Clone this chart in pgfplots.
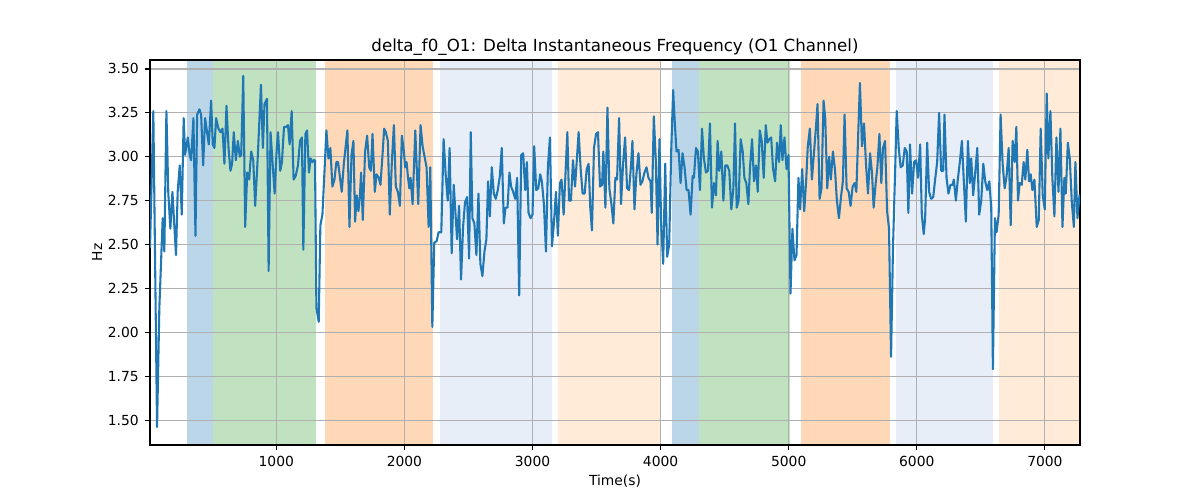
\documentclass[border=0pt]{standalone}
\usepackage{pgfplots}
\pgfplotsset{compat=1.18}
\usepackage{fontspec}
\setmainfont{DejaVu Sans}
\definecolor{tabblue}{HTML}{1F77B4}
\definecolor{spanblue}{HTML}{BBD6E8}
\definecolor{spangreen}{HTML}{C0E2C0}
\definecolor{spanorange}{HTML}{FFD9B7}
\definecolor{spanlblue}{HTML}{E7EEF8}
\definecolor{spanlorange}{HTML}{FFEBD7}
\definecolor{gridgray}{HTML}{B0B0B0}
\begin{document}
\begin{tikzpicture}
\begin{axis}[
  set layers=standard,
  clip mode=individual,
  scale only axis,
  width=697.5pt, height=288.75pt,
  xmin=14, xmax=7274, ymin=1.358, ymax=3.551,
  xtick={1000,2000,3000,4000,5000,6000,7000},
  ytick={1.5,1.75,2,2.25,2.5,2.75,3,3.25,3.5},
  /pgf/number format/assume math mode=true,
  /pgf/number format/1000 sep={},
  yticklabel style={/pgf/number format/fixed,/pgf/number format/fixed zerofill,/pgf/number format/precision=2},
  tick label style={font=\fontsize{10.4}{12}\selectfont},
  xticklabel style={anchor=base, inner sep=0pt, yshift=-12.1pt},
  yticklabel style={anchor=east, inner sep=0pt, xshift=-4.6pt},
  tick align=outside,
  major tick length=3.65pt,
  tick style={black, line width=0.83pt},
  xtick pos=bottom, ytick pos=left,
  grid=major,
  major grid style={gridgray, line width=0.83pt},
  axis line style={black, line width=0.83pt},
  title={delta\_f0\_O1: Delta Instantaneous Frequency (O1 Channel)},
  title style={at={(axis description cs:0.5,1)}, anchor=base, inner sep=0pt, yshift=0pt, font=\fontsize{12.5}{15}\selectfont},
  xlabel={Time(s)},
  xlabel style={at={(axis description cs:0.5,0)}, anchor=base, inner sep=0pt, yshift=-30pt, font=\fontsize{10.4}{12}\selectfont},
  ylabel={Hz},
  ylabel style={at={(axis description cs:-0.057,0.5)}, anchor=center, inner sep=0pt, font=\fontsize{10.4}{12}\selectfont},
]
\addplot[on layer=axis background, fill=spanblue, draw=none] coordinates {(300,1) (509,1) (509,4) (300,4)} -- cycle;
\addplot[on layer=axis background, fill=spangreen, draw=none] coordinates {(509,1) (1313,1) (1313,4) (509,4)} -- cycle;
\addplot[on layer=axis background, fill=spanorange, draw=none] coordinates {(1378,1) (2221,1) (2221,4) (1378,4)} -- cycle;
\addplot[on layer=axis background, fill=spanlblue, draw=none] coordinates {(2278,1) (3152,1) (3152,4) (2278,4)} -- cycle;
\addplot[on layer=axis background, fill=spanlorange, draw=none] coordinates {(3201,1) (4005,1) (4005,4) (3201,4)} -- cycle;
\addplot[on layer=axis background, fill=spanblue, draw=none] coordinates {(4085,1) (4299,1) (4299,4) (4085,4)} -- cycle;
\addplot[on layer=axis background, fill=spangreen, draw=none] coordinates {(4299,1) (5011,1) (5011,4) (4299,4)} -- cycle;
\addplot[on layer=axis background, fill=spanorange, draw=none] coordinates {(5095,1) (5793,1) (5793,4) (5095,4)} -- cycle;
\addplot[on layer=axis background, fill=spanlblue, draw=none] coordinates {(5838,1) (6597,1) (6597,4) (5838,4)} -- cycle;
\addplot[on layer=axis background, fill=spanlorange, draw=none] coordinates {(6644,1) (7400,1) (7400,4) (6644,4)} -- cycle;
\addplot[tabblue, line width=1.56pt, line join=round] table {
x y
14 2.48
40 3.26
69 1.46
87 2.14
113 2.65
126 2.46
142 3.26
157 2.79
173 2.59
189 2.80
217 2.44
230 2.80
246 2.95
262 2.67
277 3.22
288 3.01
309 3.11
324 3.01
335 2.98
353 3.22
369 2.55
382 3.24
400 3.27
413 3.24
429 2.95
444 3.22
473 3.07
491 3.32
504 3.07
517 3.05
530 3.22
548 3.16
564 3.14
580 3.16
595 2.96
611 3.29
627 3.05
642 2.92
655 2.96
668 3.14
684 2.98
700 3.09
715 3.00
726 3.01
742 3.46
757 2.60
773 2.91
788 2.87
804 3.03
820 2.98
835 2.72
856 3.01
880 3.41
895 3.05
908 3.30
927 3.33
940 2.35
955 3.14
987 2.79
1002 3.03
1013 3.14
1031 2.92
1044 2.97
1060 3.17
1078 3.17
1091 3.18
1104 3.07
1120 3.26
1135 2.87
1151 2.89
1169 2.95
1185 3.09
1200 3.11
1211 2.47
1227 3.13
1240 3.15
1255 2.91
1268 2.99
1281 2.97
1292 2.98
1302 2.98
1313 2.14
1331 2.06
1344 2.61
1360 2.67
1375 2.90
1391 3.15
1407 2.99
1422 3.05
1438 2.83
1454 2.87
1469 2.97
1482 2.97
1511 2.80
1527 2.96
1555 3.15
1571 2.60
1587 3.01
1602 3.09
1615 2.63
1628 2.78
1641 2.69
1652 2.77
1662 2.91
1675 2.64
1693 3.03
1709 3.12
1725 2.94
1738 2.92
1751 3.13
1769 2.80
1782 2.90
1800 2.88
1813 2.84
1829 3.01
1842 3.16
1855 3.14
1871 3.09
1886 2.67
1902 2.97
1918 3.18
1933 2.83
1949 2.80
1965 2.72
1980 3.12
1996 3.03
2006 2.94
2017 2.97
2027 2.89
2038 2.82
2048 2.88
2064 2.73
2085 3.15
2095 2.96
2108 2.73
2126 3.18
2142 3.06
2160 2.99
2173 2.94
2189 2.60
2202 2.94
2218 2.03
2233 2.51
2252 2.52
2267 2.57
2288 2.57
2306 3.10
2322 2.90
2338 2.75
2353 3.05
2369 2.45
2385 2.84
2411 2.53
2427 2.72
2442 2.30
2458 2.60
2473 2.74
2489 2.77
2505 2.42
2518 3.14
2531 2.65
2546 2.62
2562 2.44
2578 2.79
2593 2.39
2609 2.32
2625 2.46
2640 2.53
2653 2.86
2667 2.66
2682 2.94
2698 2.79
2713 2.76
2729 2.81
2745 2.89
2760 3.05
2776 2.62
2789 2.71
2805 2.71
2820 2.91
2833 2.83
2849 2.80
2865 2.76
2880 2.88
2896 2.21
2912 3.01
2927 3.02
2943 2.81
2956 2.97
2969 2.68
2985 2.65
3000 2.67
3013 3.06
3029 2.81
3045 2.82
3060 2.90
3073 2.86
3089 2.73
3105 2.46
3120 2.94
3136 3.11
3152 2.49
3167 2.62
3183 2.80
3198 2.55
3214 2.85
3227 2.87
3243 2.67
3256 2.88
3272 3.14
3285 2.75
3300 2.75
3316 2.98
3332 2.83
3345 2.97
3360 3.14
3376 2.93
3391 2.79
3407 2.79
3423 2.93
3438 2.96
3451 2.71
3464 2.58
3480 3.05
3496 3.13
3511 3.14
3527 2.83
3543 2.84
3553 3.03
3569 2.71
3585 3.28
3600 2.82
3616 2.73
3631 2.62
3647 2.88
3660 2.87
3676 3.22
3691 2.73
3707 2.96
3723 3.11
3738 2.82
3754 2.81
3770 2.96
3780 3.09
3796 2.70
3811 2.90
3827 3.02
3843 2.84
3858 2.86
3874 2.91
3890 2.94
3905 2.88
3921 2.86
3931 2.68
3947 3.23
3963 2.97
3976 2.50
3991 3.10
4004 2.62
4020 2.39
4036 2.96
4051 2.43
4067 2.50
4083 3.04
4098 3.38
4111 3.19
4124 3.03
4140 3.04
4156 2.85
4171 3.02
4187 2.94
4203 2.81
4218 2.81
4234 2.67
4250 2.89
4260 2.88
4276 3.05
4291 3.03
4307 2.81
4323 3.16
4338 2.99
4354 2.91
4370 2.92
4385 3.19
4401 2.71
4417 2.85
4432 2.78
4445 3.09
4458 2.92
4474 3.03
4490 2.75
4505 2.95
4521 2.95
4536 2.92
4552 2.70
4568 2.82
4581 3.19
4594 2.71
4609 2.75
4625 3.10
4641 3.03
4654 2.88
4669 2.85
4685 2.73
4698 2.94
4714 3.10
4729 2.86
4745 2.95
4758 2.80
4774 3.15
4789 3.09
4805 2.88
4821 3.18
4834 3.08
4849 3.10
4863 3.11
4878 2.93
4894 2.86
4909 3.08
4925 2.97
4938 3.18
4951 2.98
4967 3.11
4983 2.93
4998 3.01
5014 2.22
5029 2.59
5045 2.41
5061 2.44
5076 2.88
5089 2.70
5105 2.93
5121 2.69
5136 2.86
5149 3.06
5165 3.16
5181 2.87
5196 3.01
5212 3.16
5225 3.30
5241 2.76
5256 2.82
5272 3.32
5285 3.22
5301 2.82
5316 3.00
5329 2.87
5345 3.03
5361 2.93
5376 2.75
5392 2.65
5408 2.77
5423 2.86
5436 3.24
5452 2.82
5468 2.80
5483 2.72
5499 2.83
5515 2.85
5528 2.80
5543 3.14
5556 3.42
5572 3.06
5588 3.19
5603 2.96
5619 2.79
5635 3.02
5650 2.91
5663 2.71
5679 2.85
5692 2.94
5708 3.13
5723 2.85
5736 3.05
5752 3.09
5768 2.69
5783 2.59
5799 1.86
5814 2.48
5830 2.90
5843 3.26
5859 3.05
5874 2.94
5890 2.95
5906 3.05
5921 3.03
5934 2.68
5947 3.07
5963 2.79
5979 2.97
5994 2.98
6010 2.88
6026 3.07
6039 2.67
6054 2.56
6065 2.65
6081 3.08
6096 2.80
6112 2.76
6128 2.77
6143 2.87
6159 2.97
6174 3.25
6190 2.92
6206 2.92
6216 3.24
6232 2.88
6247 2.79
6263 2.84
6279 2.84
6289 2.87
6305 2.75
6320 2.87
6336 2.97
6352 3.09
6367 2.86
6383 2.63
6399 3.09
6414 2.85
6425 2.99
6440 2.78
6456 2.91
6472 3.05
6487 2.67
6503 2.75
6519 2.96
6534 2.86
6550 2.81
6566 2.86
6581 2.71
6594 1.79
6610 2.65
6623 2.57
6639 2.67
6654 3.24
6670 2.96
6686 2.82
6701 2.89
6717 3.05
6733 2.61
6748 3.09
6764 2.97
6777 3.17
6790 2.75
6803 2.85
6819 2.84
6834 2.97
6847 2.87
6863 3.04
6876 2.86
6889 2.90
6902 2.81
6918 2.87
6936 2.60
6952 2.64
6967 3.16
6983 2.78
6999 2.70
7014 3.36
7027 2.99
7043 3.26
7058 2.88
7074 2.66
7090 3.11
7106 2.80
7121 3.16
7137 2.60
7152 2.88
7163 2.79
7179 3.08
7194 2.99
7210 2.74
7226 2.60
7238 2.97
7254 2.65
7270 2.78
7274 2.77
};
\end{axis}
\path[use as bounding box] ([xshift=-112.5pt,yshift=-41.25pt]current axis.south west) rectangle ([xshift=90pt,yshift=45pt]current axis.north east);
\end{tikzpicture}
\end{document}
